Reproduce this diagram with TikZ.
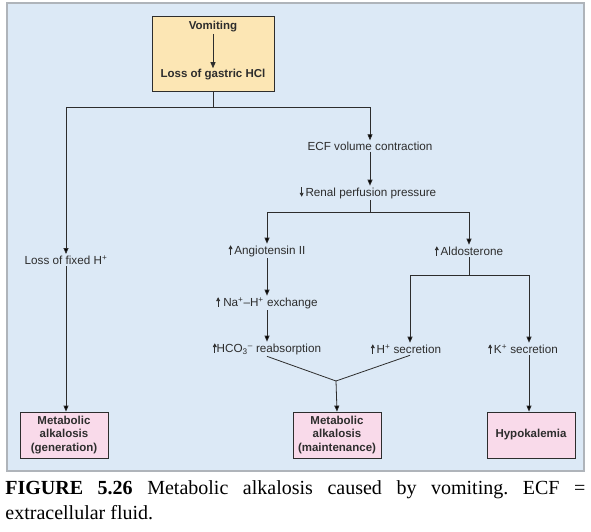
\documentclass[tikz,border=0pt]{standalone}
\usepackage{fontspec}
\setmainfont{Liberation Serif}
\setsansfont{Liberation Sans}
\usetikzlibrary{arrows.meta}
\definecolor{panelblue}{RGB}{220, 233, 246}
\definecolor{paneledge}{RGB}{175, 180, 186}
\definecolor{boxyellow}{RGB}{252, 230, 180}
\definecolor{boxpink}{RGB}{249, 218, 234}
\definecolor{inkgray}{RGB}{45, 45, 45}

% small arrows used inside the labels
\newcommand{\uparr}{\tikz[baseline=0pt]\draw[inkgray, line width=0.7pt, -{Triangle[length=3.8pt,width=3.8pt]}] (0,0) -- (0,9.5pt);}
\newcommand{\dnarr}{\tikz[baseline=0pt]\draw[inkgray, line width=0.7pt, -{Triangle[length=3.8pt,width=3.8pt]}] (0,9.5pt) -- (0,0);}

\begin{document}
\begin{tikzpicture}[x=1pt, y=-1pt, line width=0.8pt,
  lbl/.style={font=\sffamily\fontsize{11.7}{13}\selectfont, inner sep=1pt, text=inkgray},
  blbl/.style={font=\sffamily\bfseries\fontsize{11.5}{13.5}\selectfont, inner sep=1pt, text=inkgray, align=center},
  outbox/.style={blbl, draw=inkgray, fill=boxpink, minimum width=88pt, minimum height=46pt},
  arr/.style={draw=inkgray, -{Triangle[length=6pt,width=5pt]}},
  ln/.style={draw=inkgray}]
  \useasboundingbox (0,0) rectangle (591,532);

  % Panel
  \draw[paneledge, fill=panelblue, line width=1.5pt] (7,3) rectangle (584,471);

  % Top box: vomiting
  \node[draw=inkgray, fill=boxyellow, minimum width=122pt, minimum height=75pt] (top) at (213,53.5) {};
  \node[blbl] (vom) at (213,27) {Vomiting};
  \node[blbl] (hcl) at (213,75) {Loss of gastric HCl};
  \draw[arr] (vom.south) -- (hcl.north);

  % Labels
  \node[lbl] (lossH) at (66,260) {Loss of fixed H\textsuperscript{+}};
  \node[lbl] (ecf) at (370,146) {ECF volume contraction};
  \node[lbl] (renal) at (368,193) {\dnarr\,Renal perfusion pressure};
  \node[lbl] (ang) at (267,251) {\uparr\,Angiotensin II};
  \node[lbl] (ald) at (469,251) {\uparr\,Aldosterone};
  \node[lbl] (nah) at (267,303) {\uparr\ Na\textsuperscript{+}--H\textsuperscript{+} exchange};
  \node[lbl] (hco) at (267,349) {\uparr HCO\textsubscript{3}\textsuperscript{--}\ reabsorption};
  \node[lbl] (hsec) at (406,349) {\uparr\,H\textsuperscript{+} secretion};
  \node[lbl] (ksec) at (523,349) {\uparr\,K\textsuperscript{+} secretion};

  % Outcome boxes
  \node[outbox] (gen) at (64,435) {Metabolic\\alkalosis\\(generation)};
  \node[outbox] (maint) at (337,435) {Metabolic\\alkalosis\\(maintenance)};
  \node[outbox] (hypo) at (531,435) {Hypokalemia};

  % Junctions
  \coordinate (split) at (213,107);
  \coordinate (rsplit) at (370,212);
  \coordinate (asplit) at (469,275);
  \coordinate (merge) at (336,381);

  % Connectors
  \draw[ln] (top.south) -- (split);
  \draw[arr] (split) -| (lossH.north);
  \draw[arr] (split) -| (ecf.north);
  \draw[arr] (ecf.south) -- (ecf.south |- renal.north);
  \draw[ln] (ecf.south |- renal.south) -- (rsplit);
  \draw[arr] (rsplit) -| (ang.north);
  \draw[arr] (rsplit) -| (ald.north);
  \draw[arr] (ang.south) -- (nah.north);
  \draw[arr] (nah.south) -- (hco.north);
  \draw[ln] (ald.south) -- (asplit);
  \draw[arr] (asplit) -| ([xshift=4pt]hsec.north);
  \draw[arr] (asplit) -| ([xshift=6pt]ksec.north);
  \draw[ln] (hco.south) -- (merge);
  \draw[ln] ([xshift=4pt]hsec.south) -- (merge);
  \draw[arr] (merge) -- (maint.north);
  \draw[arr] (lossH.south) -- (lossH.south |- gen.north);
  \draw[arr] ([xshift=6pt]ksec.south) -- ([xshift=6pt]ksec.south |- hypo.north);

  % Caption
  \node[anchor=north west, inner sep=0pt, align=left, font=\fontsize{20}{25}\selectfont\frenchspacing] (caption) at (5,480)
    {\makebox[580pt][s]{\textbf{FIGURE 5.26} Metabolic alkalosis caused by vomiting. ECF =}\\extracellular fluid.};
\end{tikzpicture}
\end{document}
